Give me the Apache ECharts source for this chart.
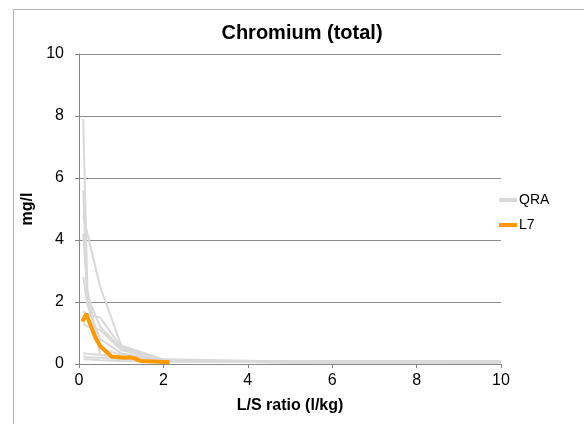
<!DOCTYPE html>
<html><head><meta charset="utf-8">
<script src="https://cdn.jsdelivr.net/npm/echarts@6/dist/echarts.min.js"></script>
<style>html,body{margin:0;padding:0;background:#fff}#c{width:584px;height:424px}</style>
</head><body><div id="c"></div>
<script>
const titleText = 'Chromium (total)';
const xTicks = [0, 2, 4, 6, 8, 10];
const yTicks = [0, 2, 4, 6, 8, 10];
const qraLS = [0.1, 0.2, 0.5, 1, 2, 5, 10];
const qra1 = [7.9, 2.4, 0.3, 0.2, 0.1, 0.06, 0.05];
const qra2 = [5.6, 2.0, 0.5, 0.3, 0.1, 0.05, 0.04];
const qra3 = [4.8, 4.2, 2.5, 0.6, 0.15, 0.08, 0.06];
const qra4 = [4.2, 2.2, 1.2, 0.5, 0.12, 0.08, 0.06];
const qra5 = [1.7, 1.6, 1.5, 0.55, 0.12, 0.07, 0.05];
const qra6 = [1.3, 1.2, 1.1, 0.45, 0.1, 0.06, 0.05];
const qra7 = [0.35, 0.33, 0.3, 0.2, 0.1, 0.08, 0.08];
const qra8 = [0.25, 0.22, 0.2, 0.15, 0.1, 0.1, 0.1];
const qra9 = [0.15, 0.15, 0.12, 0.1, 0.08, 0.07, 0.07];
const qra10 = [2.8, 1.9, 0.8, 0.35, 0.1, 0.05, 0.04];
const l7LS = [0.08, 0.17, 0.38, 0.5, 0.77, 1.09, 1.2, 1.33, 1.45, 2.15];
const l7Val = [1.37, 1.62, 0.88, 0.58, 0.24, 0.2, 0.22, 0.18, 0.1, 0.06];

const qraSets = [qra1, qra2, qra3, qra4, qra5, qra6, qra7, qra8, qra9, qra10];
const font = 'Liberation Sans, Arial, sans-serif';
const series = qraSets.map(v => ({
  name: 'QRA', type: 'line', symbol: 'none', silent: true,
  lineStyle: {color: '#d9d9d9', width: 2}, itemStyle: {color: '#d9d9d9'},
  data: qraLS.map((x, i) => [x, v[i]])
}));
series.push({
  name: 'L7', type: 'line', symbol: 'none', z: 5,
  lineStyle: {color: '#ff9900', width: 4}, itemStyle: {color: '#ff9900'},
  data: l7LS.map((x, i) => [x, l7Val[i]])
});
const chart = echarts.init(document.getElementById('c'), null, {renderer: 'canvas'});
chart.setOption({
  animation: false,
  backgroundColor: '#fff',
  title: {text: titleText, left: 297, top: 18, textAlign: 'center',
    textStyle: {fontFamily: font, fontSize: 20, fontWeight: 'bold', color: '#000'}},
  graphic: [{type: 'rect', shape: {x: 13.5, y: 9.5, width: 620, height: 440},
    style: {fill: 'none', stroke: '#b3b3b3', lineWidth: 1}, silent: true, z: -1}],
  legend: {orient: 'vertical', left: 494, top: 188, itemWidth: 18, itemHeight: 4, itemGap: 11,
    data: [{name: 'QRA', icon: 'rect'}, {name: 'L7', icon: 'rect'}],
    textStyle: {fontFamily: font, fontSize: 14, color: '#000', padding: [0, 0, 0, -3]}},
  grid: {left: 79, right: 83, top: 54, bottom: 60},
  xAxis: {type: 'value', min: xTicks[0], max: xTicks[xTicks.length - 1], interval: 2,
    name: 'L/S ratio (l/kg)', nameLocation: 'middle', nameGap: 34,
    nameTextStyle: {fontFamily: font, fontSize: 16, fontWeight: 'bold', color: '#000'},
    axisLine: {lineStyle: {color: '#868686'}},
    axisTick: {show: true, length: 4, lineStyle: {color: '#868686'}},
    axisLabel: {fontFamily: font, fontSize: 16, color: '#000', margin: 9},
    splitLine: {show: false}},
  yAxis: {type: 'value', min: yTicks[0], max: yTicks[yTicks.length - 1], interval: 2,
    name: 'mg/l', nameLocation: 'middle', nameGap: 37, nameRotate: 90,
    nameTextStyle: {fontFamily: font, fontSize: 16, fontWeight: 'bold', color: '#000'},
    axisLine: {show: true, lineStyle: {color: '#868686'}},
    axisTick: {show: true, length: 4, lineStyle: {color: '#868686'}},
    axisLabel: {fontFamily: font, fontSize: 16, color: '#000', margin: 15},
    splitLine: {lineStyle: {color: '#8c8c8c', width: 1}}},
  series: series
});
</script></body></html>
